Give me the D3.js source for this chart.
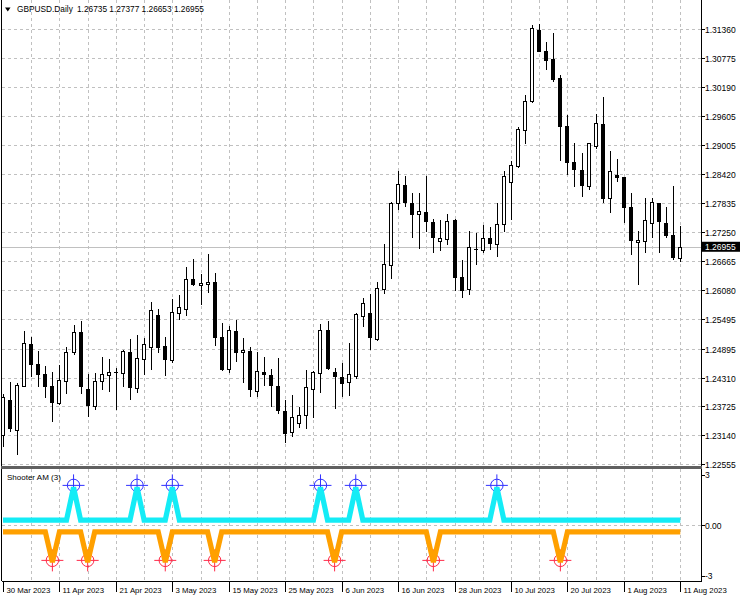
<!DOCTYPE html>
<html><head><meta charset="utf-8">
<script src="https://cdn.jsdelivr.net/npm/d3@7"></script>
<style>
body{margin:0;background:#fff}
svg{display:block}
text{font-family:"Liberation Sans",Arial,sans-serif;fill:#000}
</style>
</head><body>
<svg id="c" width="741" height="600"></svg>
<script>
// ---------- DATA ----------
const symbolTitle = "GBPUSD.Daily";
const lastOHLC = ["1.26735","1.27377","1.26653","1.26955"];
const indicatorName = "Shooter AM (3)";

const opens = [1.23147,1.23856,1.23249,1.24139,1.24988,1.24584,1.24375,1.24139,
1.23801,1.24246,1.24833,1.25237,1.24072,1.23734,1.24240,1.24375,
1.24416,1.24396,1.24820,1.24092,1.24679,1.24922,1.25575,1.24948,
1.24665,1.25609,1.25690,1.26297,1.26176,1.26202,1.26236,1.25124,
1.24477,1.25251,1.24820,1.24847,1.24044,1.24416,1.24361,1.24145,
1.23639,1.23194,1.23384,1.23538,1.24092,1.24396,1.25272,1.24416,
1.24327,1.24206,1.24341,1.25541,1.25609,1.25083,1.26095,1.26600,
1.27834,1.28204,1.27846,1.27618,1.27652,1.27450,1.27072,1.27112,
1.27496,1.26350,1.26095,1.26904,1.26890,1.27126,1.27011,1.27416,
1.28271,1.28589,1.29317,1.29889,1.31340,1.30921,1.30747,1.30375,
1.29398,1.28676,1.28508,1.28184,1.28993,1.29432,1.27935,1.28407,
1.28360,1.27766,1.27045,1.27078,1.27430,1.27846,1.27430,1.27193,
1.26735];
const highs = [1.23977,1.24226,1.24200,1.25251,1.25136,1.24853,1.24543,1.24428,
1.24564,1.24934,1.25373,1.25460,1.24382,1.24396,1.24731,1.24679,
1.24497,1.24867,1.25083,1.25170,1.25104,1.25844,1.25690,1.25124,
1.25892,1.25979,1.26540,1.26702,1.26404,1.26809,1.26418,1.25407,
1.25352,1.25474,1.25104,1.24922,1.24833,1.24731,1.24477,1.24699,
1.23856,1.23957,1.23720,1.24462,1.24448,1.25393,1.25453,1.24497,
1.24604,1.25003,1.25609,1.25925,1.26000,1.26248,1.27005,1.27861,
1.28494,1.28386,1.28037,1.28037,1.28386,1.27511,1.27496,1.27618,
1.27511,1.26687,1.27280,1.27227,1.27395,1.27361,1.27834,1.28494,
1.28696,1.29372,1.30025,1.31441,1.31461,1.31103,1.31285,1.30429,
1.29620,1.29060,1.28858,1.29054,1.29641,1.29978,1.28892,1.28730,
1.28366,1.28049,1.27280,1.27935,1.27935,1.27850,1.27753,1.28190,
1.27377];
const lows = [1.22905,1.23214,1.22743,1.24119,1.24315,1.24125,1.23902,1.23417,
1.23755,1.23977,1.24766,1.23977,1.23518,1.23653,1.24058,1.24024,
1.23653,1.24112,1.23856,1.24003,1.24361,1.24462,1.24800,1.24341,
1.24610,1.25474,1.25555,1.26162,1.25777,1.26026,1.24948,1.24448,
1.24408,1.24630,1.24206,1.23910,1.23910,1.24139,1.23720,1.23572,
1.22981,1.23113,1.23283,1.23263,1.23485,1.24003,1.24462,1.23668,
1.23916,1.23937,1.24274,1.25338,1.24867,1.25055,1.26000,1.26297,
1.27699,1.27766,1.27126,1.26904,1.27260,1.26835,1.26876,1.26991,
1.26066,1.25913,1.25979,1.26586,1.26823,1.26890,1.26742,1.27260,
1.27496,1.28542,1.29034,1.29857,1.30901,1.30531,1.30294,1.28696,
1.28407,1.28170,1.27968,1.28103,1.28927,1.27834,1.27632,1.28271,
1.27430,1.26788,1.26182,1.26823,1.27126,1.26823,1.27126,1.26687,
1.26653];
const closes = [1.23922,1.23283,1.24159,1.25015,1.24584,1.24375,1.24125,1.23815,
1.24260,1.24833,1.25237,1.24139,1.23755,1.24246,1.24382,1.24428,
1.24422,1.24847,1.24104,1.24699,1.24982,1.25676,1.24922,1.24679,
1.25642,1.25731,1.26297,1.26196,1.26216,1.26248,1.25116,1.24477,
1.25272,1.24833,1.24867,1.24072,1.24448,1.24367,1.24159,1.23653,
1.23194,1.23506,1.23552,1.24112,1.24428,1.25272,1.24497,1.24327,
1.24210,1.24375,1.25595,1.25812,1.25124,1.26115,1.26607,1.27846,
1.28219,1.27867,1.27632,1.27679,1.27462,1.27147,1.27126,1.27482,
1.26350,1.26095,1.26944,1.26910,1.27138,1.27025,1.27416,1.28393,
1.28609,1.29331,1.29910,1.31374,1.30915,1.30747,1.30342,1.29398,
1.28676,1.28542,1.28204,1.29048,1.29452,1.27935,1.28488,1.28360,
1.27753,1.27092,1.27092,1.27496,1.27855,1.27476,1.27193,1.26754,
1.26955];

// indicator buffers
const upLine = [0.25,0.25,0.25,0.25,0.25,0.25,0.25,0.25,
0.25,0.25,2,0.25,0.25,0.25,0.25,0.25,
0.25,0.25,0.25,2,0.25,0.25,0.25,0.25,
2,0.25,0.25,0.25,0.25,0.25,0.25,0.25,
0.25,0.25,0.25,0.25,0.25,0.25,0.25,0.25,
0.25,0.25,0.25,0.25,0.25,2,0.25,0.25,
0.25,0.25,2,0.25,0.25,0.25,0.25,0.25,
0.25,0.25,0.25,0.25,0.25,0.25,0.25,0.25,
0.25,0.25,0.25,0.25,0.25,0.25,2,0.25,
0.25,0.25,0.25,0.25,0.25,0.25,0.25,0.25,
0.25,0.25,0.25,0.25,0.25,0.25,0.25,0.25,
0.25,0.25,0.25,0.25,0.25,0.25,0.25,0.25,
0.25];
const downLine = [-0.38,-0.38,-0.38,-0.38,-0.38,-0.38,-0.38,-2,
-0.38,-0.38,-0.38,-0.38,-2,-0.38,-0.38,-0.38,
-0.38,-0.38,-0.38,-0.38,-0.38,-0.38,-0.38,-2,
-0.38,-0.38,-0.38,-0.38,-0.38,-0.38,-2,-0.38,
-0.38,-0.38,-0.38,-0.38,-0.38,-0.38,-0.38,-0.38,
-0.38,-0.38,-0.38,-0.38,-0.38,-0.38,-0.38,-2,
-0.38,-0.38,-0.38,-0.38,-0.38,-0.38,-0.38,-0.38,
-0.38,-0.38,-0.38,-0.38,-0.38,-2,-0.38,-0.38,
-0.38,-0.38,-0.38,-0.38,-0.38,-0.38,-0.38,-0.38,
-0.38,-0.38,-0.38,-0.38,-0.38,-0.38,-0.38,-2,
-0.38,-0.38,-0.38,-0.38,-0.38,-0.38,-0.38,-0.38,
-0.38,-0.38,-0.38,-0.38,-0.38,-0.38,-0.38,-0.38,
-0.38];
const buyArrowLevel = 2.1;
const sellArrowLevel = -1.9;

const priceTicks = [1.31360,1.30775,1.30190,1.29605,1.29005,1.28420,1.27835,1.27250,
1.26665,1.26080,1.25495,1.24895,1.24310,1.23725,1.23140,1.22555];
const priceTickLabels = ["1.31360","1.30775","1.30190","1.29605","1.29005","1.28420","1.27835","1.27250",
"1.26665","1.26080","1.25495","1.24895","1.24310","1.23725","1.23140","1.22555"];
const currentPrice = 1.26955;
const indTicks = [3,0,-3];
const indTickLabels = ["3","0.00","-3"];
const dateTickLabels = ["30 Mar 2023","11 Apr 2023","21 Apr 2023","3 May 2023","15 May 2023","25 May 2023",
"6 Jun 2023","16 Jun 2023","28 Jun 2023","10 Jul 2023","20 Jul 2023","1 Aug 2023","11 Aug 2023"];

// trading days (weekdays) 30 Mar 2023 .. 11 Aug 2023
const dates = d3.timeDay.range(new Date(2023,2,30), new Date(2023,7,12)).filter(d => d.getDay()!==0 && d.getDay()!==6);
const fmtKey = d3.timeFormat("%Y-%m-%d");
const keys = dates.map(fmtKey);

// ---------- LAYOUT ----------
const svg = d3.select("#c");
const L = 1.5, R = 701.5, mainTop = 0, mainBot = 466.5, indTop = 468.5, indBot = 581;
const x = d3.scalePoint().domain(keys).range([3, 680.3]);
const y = d3.scaleLinear().domain([1.22555, 1.31360]).range([464.3, 29]);
const yi = d3.scaleLinear().domain([-3, 3]).range([indBot, indTop]);

svg.append("rect").attr("width",741).attr("height",600).attr("fill","#fff");

const gridCol = "#c0c0c0";
const vgrid = keys.filter((k,i)=> i>0 && i%4===0);
const gGrid = svg.append("g").attr("shape-rendering","crispEdges");
gGrid.selectAll("line.vm").data(vgrid).join("line")
  .attr("x1",d=>Math.round(x(d))+0.5).attr("x2",d=>Math.round(x(d))+0.5)
  .attr("y1",mainTop).attr("y2",mainBot)
  .attr("stroke",gridCol).attr("stroke-dasharray","3,3");
gGrid.selectAll("line.vi").data(vgrid).join("line")
  .attr("x1",d=>Math.round(x(d))+0.5).attr("x2",d=>Math.round(x(d))+0.5)
  .attr("y1",indTop).attr("y2",indBot)
  .attr("stroke",gridCol).attr("stroke-dasharray","3,3");
gGrid.selectAll("line.hm").data(priceTicks).join("line")
  .attr("x1",L).attr("x2",R)
  .attr("y1",d=>Math.round(y(d))+0.5).attr("y2",d=>Math.round(y(d))+0.5)
  .attr("stroke",gridCol).attr("stroke-dasharray","3,3");
gGrid.append("line").attr("x1",L).attr("x2",R)
  .attr("y1",Math.round(yi(0))+0.5).attr("y2",Math.round(yi(0))+0.5)
  .attr("stroke",gridCol).attr("stroke-dasharray","3,3");

// current price line
svg.append("line").attr("x1",L).attr("x2",R)
  .attr("y1",Math.round(y(currentPrice))+0.5).attr("y2",Math.round(y(currentPrice))+0.5)
  .attr("stroke","#c0c0c0").attr("shape-rendering","crispEdges");

// ---------- CANDLES ----------
const bars = keys.map((k,i)=>({k, o:opens[i], h:highs[i], l:lows[i], c:closes[i]}));
const gC = svg.append("g").attr("shape-rendering","crispEdges");
gC.selectAll("line.w").data(bars).join("line")
  .attr("x1",d=>Math.round(x(d.k))+0.5).attr("x2",d=>Math.round(x(d.k))+0.5)
  .attr("y1",d=>y(d.h)).attr("y2",d=>y(d.l))
  .attr("stroke","#000");
gC.selectAll("rect.b").data(bars).join("rect")
  .attr("x",d=>Math.round(x(d.k))-1.5)
  .attr("y",d=>Math.round(y(Math.max(d.o,d.c)))+0.5)
  .attr("width",3)
  .attr("height",d=>Math.max(0.01, Math.round(Math.abs(y(d.o)-y(d.c)))))
  .attr("fill",d=>d.c>=d.o ? "#fff" : "#000")
  .attr("stroke","#000");

// ---------- INDICATOR ----------
function marker(g, cx, cy, col){
  g.append("circle").attr("cx",cx).attr("cy",cy).attr("r",6.2)
    .attr("fill","none").attr("stroke",col).attr("stroke-width",1);
  g.append("line").attr("x1",cx-11).attr("x2",cx+11).attr("y1",cy).attr("y2",cy).attr("stroke",col).attr("stroke-width",1);
  g.append("line").attr("x1",cx).attr("x2",cx).attr("y1",cy-11).attr("y2",cy+11).attr("stroke",col).attr("stroke-width",1);
}
const gM = svg.append("g");
const upMax = d3.max(upLine), dnMin = d3.min(downLine);
upLine.forEach((v,i)=>{ if(v===upMax) marker(gM, x(keys[i]), yi(buyArrowLevel), "#3030ff"); });
downLine.forEach((v,i)=>{ if(v===dnMin) marker(gM, x(keys[i]), yi(sellArrowLevel), "#ff2a48"); });

const line = d3.line().x((d,i)=>x(keys[i])).y(d=>yi(d));
svg.append("path").datum(upLine).attr("d",line)
  .attr("fill","none").attr("stroke","#14ecf6").attr("stroke-width",5.2);
svg.append("path").datum(downLine).attr("d",line)
  .attr("fill","none").attr("stroke","#ffa000").attr("stroke-width",5.2);

// ---------- FRAME ----------
const gF = svg.append("g").attr("shape-rendering","crispEdges");
gF.append("line").attr("x1",R).attr("x2",R).attr("y1",0).attr("y2",indBot).attr("stroke","#000");
gF.append("line").attr("x1",L).attr("x2",L).attr("y1",0).attr("y2",indBot).attr("stroke","#000");
gF.append("rect").attr("x",1).attr("y",466).attr("width",R-1).attr("height",2.5).attr("fill","#606060");
gF.append("line").attr("x1",L).attr("x2",R).attr("y1",indBot+0.5).attr("y2",indBot+0.5).attr("stroke","#000");

// price axis
const gY = svg.append("g");
priceTicks.forEach((p,i)=>{
  const yy = Math.round(y(p))+0.5;
  gY.append("line").attr("x1",R).attr("x2",R+3).attr("y1",yy).attr("y2",yy).attr("stroke","#000").attr("shape-rendering","crispEdges");
  gY.append("text").attr("x",705).attr("y",yy+3).attr("font-size","8.5px").text(priceTickLabels[i]);
});
const cpy = y(currentPrice);
gY.append("rect").attr("x",702).attr("y",cpy-5).attr("width",38).attr("height",10).attr("fill","#000");
gY.append("text").attr("x",705).attr("y",cpy+3).attr("font-size","8.5px").style("fill","#fff").text(d3.format(".5f")(currentPrice));

// indicator axis
indTicks.forEach((v,i)=>{
  const yy = v===3 ? 475 : (v===-3 ? 576 : Math.round(yi(v))+0.5);
  gY.append("line").attr("x1",R).attr("x2",R+3).attr("y1",yy).attr("y2",yy).attr("stroke","#000").attr("shape-rendering","crispEdges");
  gY.append("text").attr("x",705).attr("y",yy+3).attr("font-size","8.5px").text(indTickLabels[i]);
});

// time axis
const gX = svg.append("g");
keys.forEach((k,i)=>{
  if(i%8!==0) return;
  const xx = Math.round(x(k))+0.5;
  gX.append("line").attr("x1",xx).attr("x2",xx).attr("y1",indBot).attr("y2",592).attr("stroke","#000").attr("shape-rendering","crispEdges");
  gX.append("text").attr("x",xx+3).attr("y",593).attr("font-size","7.8px").text(dateTickLabels[i/8]);
});

// titles
svg.append("path").attr("d","M5,7.5 L10.5,7.5 L7.75,11.5 Z").attr("fill","#000");
svg.append("text").attr("x",17).attr("y",12).attr("font-size","8.3px").text(symbolTitle);
svg.append("text").attr("x",77).attr("y",12).attr("font-size","8.3px").text(lastOHLC.join(" "));
svg.append("text").attr("x",7).attr("y",480).attr("font-size","8px").text(indicatorName);
</script>
</body></html>
